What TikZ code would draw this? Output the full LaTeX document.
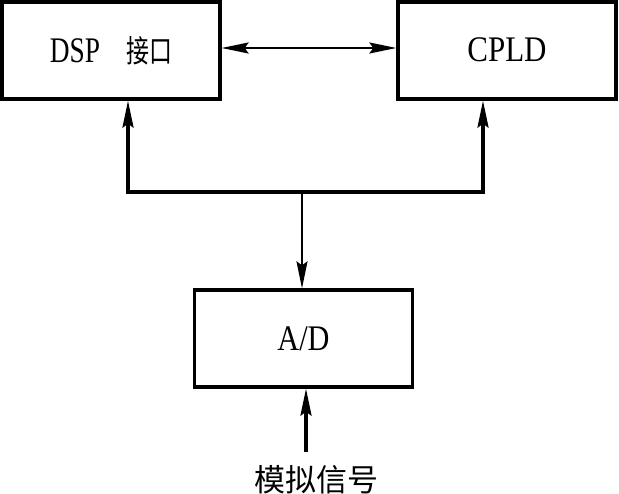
\documentclass[tikz,border=0pt]{standalone}
\usepackage{fontspec}
\setmainfont{Liberation Serif}
\newfontfamily\cjk{Noto Sans CJK SC}
\usetikzlibrary{arrows.meta}
\newcommand{\lat}[2]{\scalebox{#1}[1]{\fontsize{36}{40}\selectfont #2}}
\newcommand{\han}[2]{\scalebox{#1}[1]{\cjk\fontsize{31}{36}\selectfont #2}}
\begin{document}
\begin{tikzpicture}[x=1pt,y=-1pt,
  box/.style={draw,line width=3.3pt,minimum width=218pt,minimum height=97pt,inner sep=0pt},
  bus/.style={line width=3.2pt},
  thinline/.style={line width=2pt},
  tip/.tip={Stealth[length=27pt,width=11pt,inset=4pt]}]
\useasboundingbox (0,0) rectangle (619,494);
\node[box] (dsp) at (111,50.5) {\lat{0.76}{DSP}\hspace{26pt}\han{0.74}{接口}};
\node[box] (cpld) at (507,50.5) {\raisebox{2pt}{\lat{0.86}{CPLD}}};
\node[box] (ad) at (303.5,338.5) {\lat{0.84}{A/D}};
\node[anchor=base,inner sep=0pt] (sig) at (316,491) {\han{1}{模拟信号}};
\coordinate (h) at (0,48);
\coordinate (bl) at (128,192);
\coordinate (br) at (483,192);
\coordinate (bm) at (302,192);
\coordinate (in) at (306,452);
\draw[thinline,tip-tip] (dsp.east |- h) -- (cpld.west |- h);
\draw[bus,tip-tip] (dsp.south -| bl) -- (bl) -- (br) -- (cpld.south -| br);
\draw[thinline,-tip] (bm) -- (ad.north -| bm);
\draw[bus,-tip] (in) -- (ad.south -| in);
\end{tikzpicture}
\end{document}
